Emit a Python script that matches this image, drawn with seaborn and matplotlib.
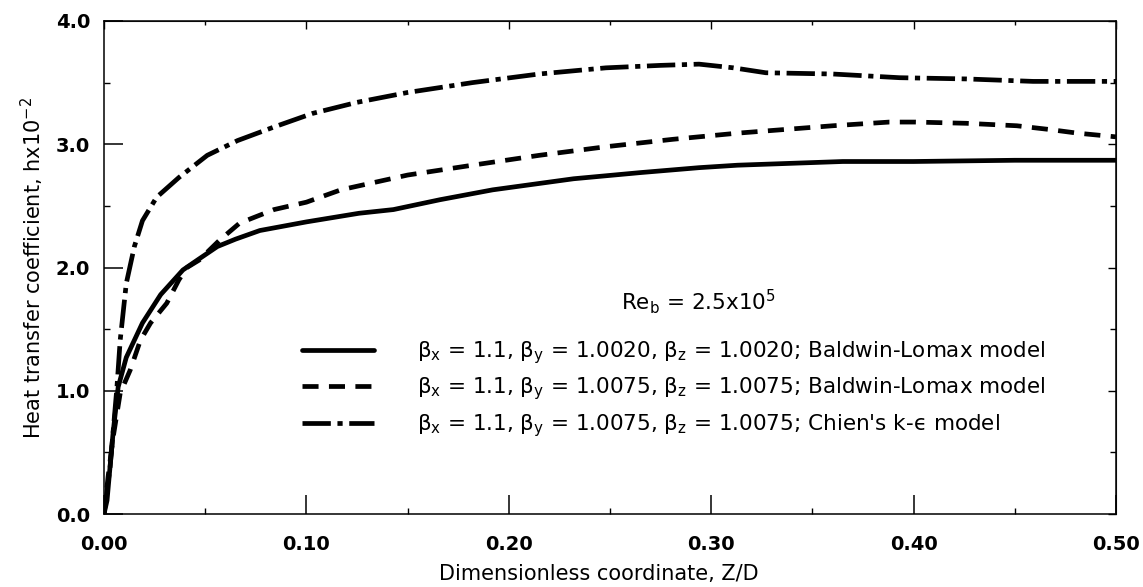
import numpy as np
import pandas as pd
import matplotlib
matplotlib.use("Agg")
import matplotlib.pyplot as plt
from matplotlib.ticker import MultipleLocator, FormatStrFormatter
import seaborn as sns

# ---------------- data ----------------
z_bl1 = [0, 0.0015, 0.0045, 0.007, 0.011, 0.019, 0.028, 0.039, 0.047, 0.056, 0.065,
         0.077, 0.10, 0.126, 0.143, 0.166, 0.192, 0.232, 0.265, 0.294, 0.313, 0.365,
         0.40, 0.45, 0.50]
h_bl1 = [0, 0.11, 0.66, 1.03, 1.27, 1.55, 1.78, 1.98, 2.07, 2.17, 2.23,
         2.30, 2.37, 2.44, 2.47, 2.55, 2.63, 2.72, 2.77, 2.81, 2.83, 2.86,
         2.86, 2.87, 2.87]

z_bl2 = [0, 0.002, 0.0045, 0.008, 0.013, 0.018, 0.023, 0.031, 0.037, 0.041, 0.047,
         0.057, 0.067, 0.084, 0.100, 0.117, 0.150, 0.182, 0.215, 0.248, 0.281, 0.313,
         0.360, 0.388, 0.401, 0.426, 0.451, 0.467, 0.481, 0.50]
h_bl2 = [0, 0.30, 0.62, 0.98, 1.17, 1.41, 1.55, 1.71, 1.90, 2.00, 2.06,
         2.22, 2.36, 2.47, 2.53, 2.63, 2.75, 2.83, 2.91, 2.98, 3.04, 3.09,
         3.15, 3.18, 3.18, 3.17, 3.15, 3.12, 3.09, 3.06]

z_ke = [0, 0.003, 0.0064, 0.008, 0.011, 0.015, 0.019, 0.026, 0.037, 0.051, 0.066,
        0.084, 0.103, 0.125, 0.150, 0.182, 0.215, 0.248, 0.275, 0.294, 0.311, 0.327,
        0.360, 0.393, 0.426, 0.459, 0.50]
h_ke = [0, 0.38, 1.03, 1.41, 1.87, 2.17, 2.38, 2.57, 2.73, 2.91, 3.03,
        3.14, 3.25, 3.34, 3.42, 3.50, 3.57, 3.62, 3.64, 3.65, 3.62, 3.58,
        3.57, 3.54, 3.53, 3.51, 3.51]

labels = [
    r"β$_\mathregular{x}$ = 1.1, β$_\mathregular{y}$ = 1.0020, β$_\mathregular{z}$ = 1.0020; Baldwin-Lomax model",
    r"β$_\mathregular{x}$ = 1.1, β$_\mathregular{y}$ = 1.0075, β$_\mathregular{z}$ = 1.0075; Baldwin-Lomax model",
    r"β$_\mathregular{x}$ = 1.1, β$_\mathregular{y}$ = 1.0075, β$_\mathregular{z}$ = 1.0075; Chien's k-ϵ model",
]
legend_title = r"Re$_\mathregular{b}$ = 2.5x10$^\mathregular{5}$"
xlabel = "Dimensionless coordinate, Z/D"
ylabel = r"Heat transfer coefficient, hx10$^\mathregular{-2}$"

# ---------------- style ----------------
sns.set_style("ticks")
plt.rcParams["font.family"] = ["DejaVu Sans"]
plt.rcParams["mathtext.fontset"] = "dejavusans"
plt.rcParams["text.color"] = "black"
plt.rcParams["axes.labelcolor"] = "black"
plt.rcParams["xtick.color"] = "black"
plt.rcParams["ytick.color"] = "black"

df = pd.concat([
    pd.DataFrame({"z": z_bl1, "h": h_bl1, "series": labels[0]}),
    pd.DataFrame({"z": z_bl2, "h": h_bl2, "series": labels[1]}),
    pd.DataFrame({"z": z_ke, "h": h_ke, "series": labels[2]}),
], ignore_index=True)

W, H = 1143, 587
fig = plt.figure(figsize=(W / 100, H / 100), dpi=100)
ax = fig.add_axes([104 / W, 1 - 514 / H, 1012 / W, 493 / H])

lw = 3.4
sns.lineplot(data=df, x="z", y="h", style="series", style_order=labels,
             dashes={labels[0]: "", labels[1]: (3.4, 2.2), labels[2]: (6.0, 1.4, 1.1, 1.4)},
             color="black", linewidth=lw, estimator=None, sort=False, ax=ax)

ax.set_xlim(0, 0.5)
ax.set_ylim(0, 4.0)
ax.xaxis.set_major_locator(MultipleLocator(0.1))
ax.xaxis.set_minor_locator(MultipleLocator(0.05))
ax.yaxis.set_major_locator(MultipleLocator(1.0))
ax.yaxis.set_minor_locator(MultipleLocator(0.5))
ax.xaxis.set_major_formatter(FormatStrFormatter("%.2f"))
ax.yaxis.set_major_formatter(FormatStrFormatter("%.1f"))

for s in ax.spines.values():
    s.set_visible(True)
    s.set_linewidth(1.1)
    s.set_color("black")

ax.tick_params(which="major", direction="in", length=14, width=1.1, labelsize=14,
               colors="black")
ax.tick_params(axis="x", which="major", pad=15)
ax.tick_params(axis="y", which="major", pad=10)
ax.tick_params(which="minor", direction="in", length=4, width=1.0)
for t in ax.get_xticklabels() + ax.get_yticklabels():
    t.set_fontweight("bold")

# shorter ticks on top and right
secx = ax.secondary_xaxis("top")
secx.xaxis.set_major_locator(MultipleLocator(0.1))
secx.xaxis.set_minor_locator(MultipleLocator(0.05))
secx.tick_params(which="major", direction="in", length=6, width=1.0, labeltop=False)
secx.tick_params(which="minor", direction="in", length=3, width=1.0)
secy = ax.secondary_yaxis("right")
secy.yaxis.set_major_locator(MultipleLocator(1.0))
secy.yaxis.set_minor_locator(MultipleLocator(0.5))
secy.tick_params(which="major", direction="in", length=6, width=1.0, labelright=False)
secy.tick_params(which="minor", direction="in", length=4, width=1.0)

ax.set_xlabel(xlabel, fontsize=15, color="black")
ax.set_ylabel(ylabel, fontsize=15, color="black")
ax.xaxis.set_label_coords((599 - 104) / 1012, (514 - 564) / 493)
ax.yaxis.set_label_coords((46 - 104) / 1012, (514 - 268) / 493)

handles, labs = ax.get_legend_handles_labels()
leg = ax.legend(handles, labs, frameon=False, fontsize=15.5,
                handlelength=3.35, handletextpad=2.0, labelspacing=0.45,
                borderpad=0, borderaxespad=0, loc="upper left",
                bbox_to_anchor=(302 / W, 1 - 339 / H), bbox_transform=fig.transFigure)
for t in leg.get_texts():
    t.set_color("black")

ax.text(698, H - 302, legend_title, transform=None, fontsize=15.5,
        ha="center", va="center", color="black")

fig.savefig("out.png", dpi=100)
